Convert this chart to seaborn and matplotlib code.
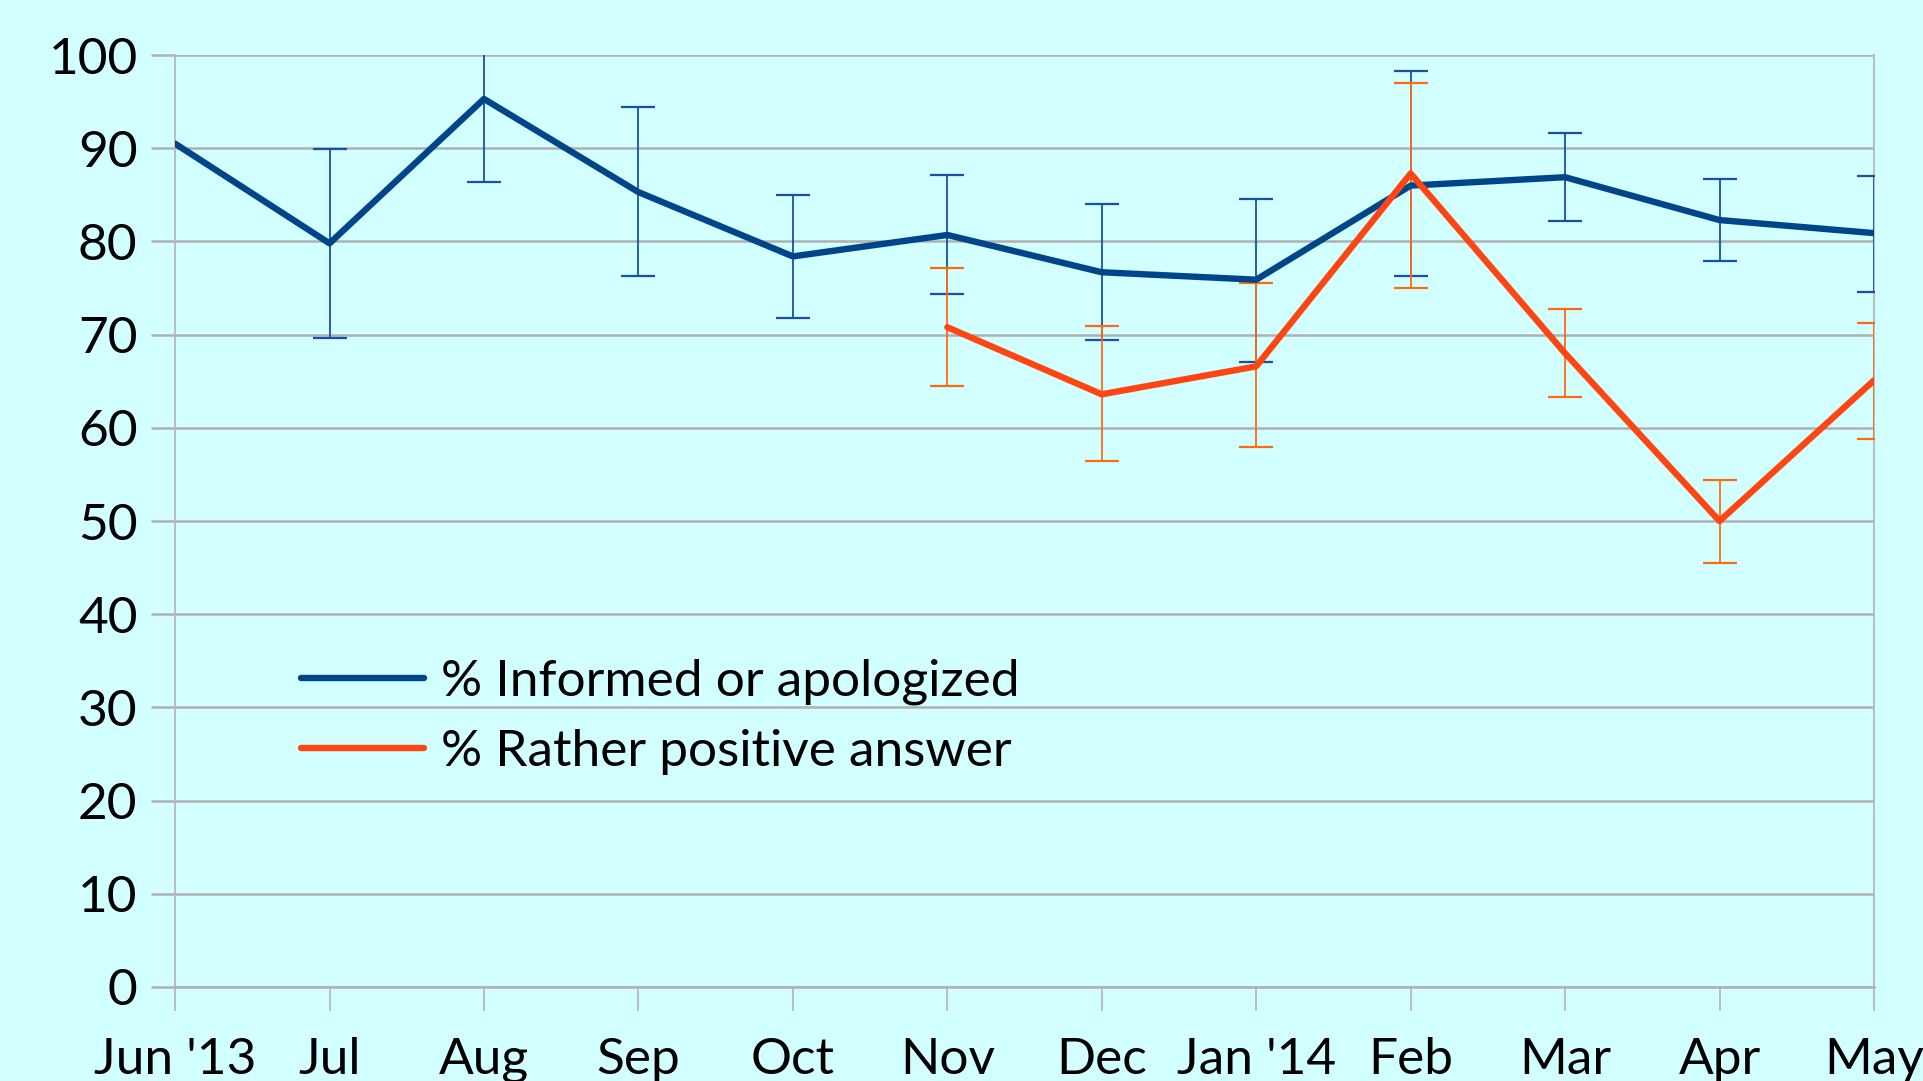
import numpy as np
import pandas as pd
import seaborn as sns
import matplotlib.pyplot as plt

months = ["Jun '13", "Jul", "Aug", "Sep", "Oct", "Nov", "Dec", "Jan '14", "Feb", "Mar", "Apr", "May"]

informed = [90.5, 79.8, 95.3, 85.3, 78.4, 80.7, 76.7, 75.9, 86.0, 86.9, 82.3, 80.9]
informed_low = [np.nan, 69.6, 86.4, 76.3, 71.8, 74.4, 69.4, 67.1, 76.3, 82.2, 77.9, 74.6]
informed_high = [np.nan, 89.9, 104.0, 94.4, 85.0, 87.1, 84.0, 84.6, 98.3, 91.6, 86.7, 87.0]

positive = [np.nan, np.nan, np.nan, np.nan, np.nan, 70.8, 63.6, 66.6, 87.3, 68.0, 50.0, 65.1]
positive_low = [np.nan, np.nan, np.nan, np.nan, np.nan, 64.5, 56.4, 57.9, 75.0, 63.3, 45.5, 58.8]
positive_high = [np.nan, np.nan, np.nan, np.nan, np.nan, 77.2, 70.9, 75.5, 97.0, 72.8, 54.4, 71.2]

label_informed = "% Informed or apologized"
label_positive = "% Rather positive answer"

bg = "#D2FFFF"
blue = "#00458A"
blue_err = "#1A4FA8"
orange = "#FF4512"
orange_err = "#FF6A10"

sns.set_style("white")
plt.rcParams["font.family"] = ["Lato", "DejaVu Sans"]
plt.rcParams["text.color"] = "black"
plt.rcParams["xtick.color"] = "black"
plt.rcParams["ytick.color"] = "black"

x = np.arange(len(months))
df = pd.DataFrame({
    "x": np.concatenate([x, x]),
    "value": informed + positive,
    "series": [label_informed] * len(x) + [label_positive] * len(x),
}).dropna()

fig = plt.figure(figsize=(19.24, 10.81), dpi=100, facecolor=bg)
ax = fig.add_axes([0.091, 0.087, 0.883, 0.862])
ax.set_facecolor(bg)

# error bars first, lines drawn over them
for lo, hi, vals, col in [(informed_low, informed_high, informed, blue_err),
                          (positive_low, positive_high, positive, orange_err)]:
    v = np.array(vals)
    lo = np.array(lo)
    hi = np.array(hi)
    ax.errorbar(x, v, yerr=[v - lo, hi - v], fmt="none", ecolor=col,
                elinewidth=1.3, capsize=12, capthick=1.6, zorder=3)

sns.lineplot(data=df, x="x", y="value", hue="series",
             palette={label_informed: blue, label_positive: orange},
             linewidth=4.6, sort=False, ax=ax, zorder=4)

ax.set_xlim(0, 11)
ax.set_ylim(0, 100)
ax.set_yticks(range(0, 101, 10))
ax.set_xticks(x)
ax.set_xticklabels(months)
ax.set_xlabel("")
ax.set_ylabel("")
ax.grid(axis="y", color="#B0B0B0", linewidth=1.8)
ax.set_axisbelow(True)

for side in ["left", "right", "bottom"]:
    ax.spines[side].set_color("#B8B8B8")
    ax.spines[side].set_linewidth(1.3)
ax.spines["top"].set_visible(False)
ax.spines["bottom"].set_color("#B0B0B0")
ax.spines["bottom"].set_linewidth(1.8)

ax.tick_params(axis="x", bottom=True, length=17, width=1.3, color="#B8B8B8",
               labelcolor="black", labelsize=37, pad=19)
ax.tick_params(axis="y", left=True, length=17, width=1.8, color="#B0B0B0",
               labelcolor="black", labelsize=37, pad=10)

leg = ax.legend(loc="upper left", bbox_to_anchor=(0.074, 0.352), frameon=False,
                fontsize=37, handlelength=2.4, handletextpad=0.32, labelspacing=0.46,
                borderpad=0, borderaxespad=0, title=None)
for t in leg.get_texts():
    t.set_color("black")

fig.savefig("out.png", dpi=100, facecolor=bg)
